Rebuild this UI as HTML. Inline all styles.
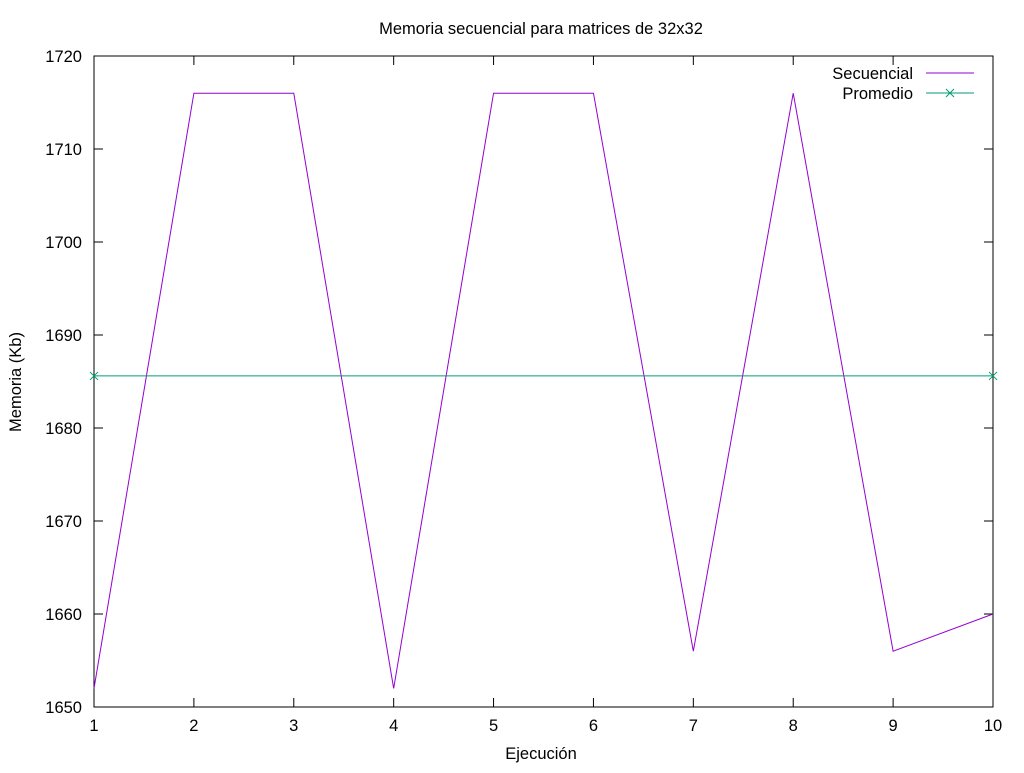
<!DOCTYPE html>
<html><head><meta charset="utf-8"><style>
html,body{margin:0;padding:0;background:#fff;}
svg text{font-family:"Liberation Sans",sans-serif;font-size:16.5px;fill:#000;}
</style></head><body>
<svg id="chart" width="1024" height="768" xmlns="http://www.w3.org/2000/svg"></svg>
<script>
const categories=[1,2,3,4,5,6,7,8,9,10];
const secuencial=[1652,1716,1716,1652,1716,1716,1656,1716,1656,1660];
const promedio=[1685.6,1685.6];
const promedioX=[1,10];
const yTicks=[1650,1660,1670,1680,1690,1700,1710,1720];
const xTicks=[1,2,3,4,5,6,7,8,9,10];

const L=94,R=993,T=56,B=707;
const xS=v=>L+(v-1)/(10-1)*(R-L);
const yS=v=>B-(v-1650)/(1720-1650)*(B-T);
const svg=document.getElementById('chart');
const NS='http://www.w3.org/2000/svg';
function mk(tag,attrs,parent){const e=document.createElementNS(NS,tag);for(const k in attrs)e.setAttribute(k,attrs[k]);(parent||svg).appendChild(e);return e;}

const frame=mk('rect',{x:L,y:T,width:R-L,height:B-T,fill:'none',stroke:'#000','stroke-width':1});



yTicks.forEach(v=>{
  const y=yS(v);
  mk('line',{x1:L,y1:y,x2:L+9,y2:y,stroke:'#000'});
  mk('line',{x1:R,y1:y,x2:R-9,y2:y,stroke:'#000'});
  const t=mk('text',{x:L-12,y:y+6,'text-anchor':'end'});t.textContent=v;
  
  
});
xTicks.forEach(v=>{
  const x=xS(v);
  mk('line',{x1:x,y1:B,x2:x,y2:B-9,stroke:'#000'});
  mk('line',{x1:x,y1:T,x2:x,y2:T+9,stroke:'#000'});
  const t=mk('text',{x:x,y:B+24,'text-anchor':'middle'});t.textContent=v;
  
  
});

const title=mk('text',{x:541,y:34,'text-anchor':'middle'});title.textContent='Memoria secuencial para matrices de 32x32';


const xt=mk('text',{x:541,y:759,'text-anchor':'middle'});xt.textContent='Ejecución';


const yt=mk('text',{x:21,y:382,'text-anchor':'middle',transform:'rotate(-90 21 382)'});yt.textContent='Memoria (Kb)';



const sp=mk('polyline',{points:categories.map((c,i)=>xS(c)+','+yS(secuencial[i])).join(' '),fill:'none',stroke:'#9400d3','stroke-width':1});


const pp=mk('polyline',{points:promedioX.map((c,i)=>xS(c)+','+yS(promedio[i])).join(' '),fill:'none',stroke:'#009e73','stroke-width':1});


function cross(x,y){mk('path',{d:`M${x-4},${y-4}L${x+4},${y+4}M${x-4},${y+4}L${x+4},${y-4}`,stroke:'#009e73','stroke-width':1});}
promedioX.forEach((c,i)=>cross(xS(c),yS(promedio[i])));

const l1=mk('text',{x:913,y:79,'text-anchor':'end'});l1.textContent='Secuencial';


mk('line',{x1:926,y1:73,x2:974,y2:73,stroke:'#9400d3'});
const l2=mk('text',{x:913,y:99,'text-anchor':'end'});l2.textContent='Promedio';


mk('line',{x1:926,y1:93,x2:974,y2:93,stroke:'#009e73'});
cross(950,93);
</script>
</body></html>
